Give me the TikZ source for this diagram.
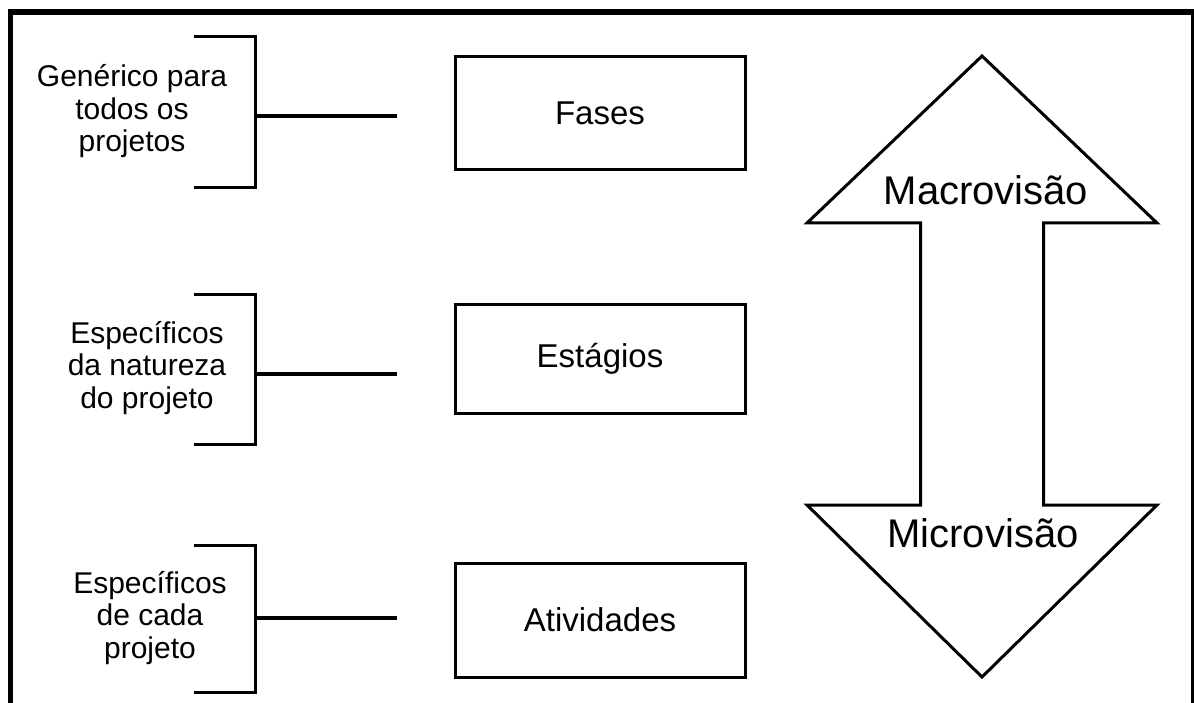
\documentclass[tikz,border=0pt]{standalone}
\usepackage{fontspec}
\setmainfont{Liberation Sans}
\begin{document}
\begin{tikzpicture}[x=1pt,y=-1pt,
  box/.style={draw=black,line width=3pt,minimum width=290pt,inner sep=0pt,font=\fontsize{33}{36}\selectfont},
  lbl/.style={align=center,anchor=base,inner sep=0pt,font=\fontsize{30}{32.5}\selectfont},
  bracketline/.style={line width=3pt},
  conn/.style={line width=3.5pt},
  arrowshape/.style={line width=3pt,line join=miter},
  arrowtext/.style={anchor=base,inner sep=0pt,font=\fontsize{40}{44}\selectfont}]
\useasboundingbox (0,0) rectangle (1194,703);
% frame
\draw[line width=5.5pt] (10.5,703) -- (10.5,12);
\draw[line width=6pt] (8,12) -- (1194,12);
\draw[line width=3pt] (1192.5,9) -- (1192.5,703);
% boxes
\node[box,minimum height=113pt] (fases) at (600,113.5) {Fases};
\node[box,minimum height=108pt] (estagios) at (600,359) {Estágios};
\node[box,minimum height=114pt] (atividades) at (600,620) {Atividades};
% labels (anchor at baseline of last line)
\node[lbl] (l1) at (132,152) {Genérico para\\todos os\\projetos};
\node[lbl] (l2) at (147,408) {Específicos\\da natureza\\do projeto};
\node[lbl] (l3) at (150,658) {Específicos\\de cada\\projeto};
% brackets
\coordinate (b1) at (255,116);
\coordinate (c1) at (397,116);
\draw[bracketline] (194,37) -- (255,37) -- (255,188) -- (194,188);
\draw[conn] (b1) -- (c1);
\coordinate (b2) at (255,374);
\coordinate (c2) at (397,374);
\draw[bracketline] (194,295) -- (255,295) -- (255,444) -- (194,444);
\draw[conn] (b2) -- (c2);
\coordinate (b3) at (255,618);
\coordinate (c3) at (397,618);
\draw[bracketline] (194,545) -- (255,545) -- (255,692) -- (194,692);
\draw[conn] (b3) -- (c3);
% double arrow
\draw[arrowshape] (982,56) -- (807,223) -- (920.5,223) -- (920.5,505) -- (807,505)
  -- (982,677) -- (1157,505) -- (1043.5,505) -- (1043.5,223) -- (1157,223) -- cycle;
\node[arrowtext] (macro) at (986,205) {Macrovisão};
\node[arrowtext] (micro) at (983,547) {Microvisão};
\end{tikzpicture}
\end{document}
